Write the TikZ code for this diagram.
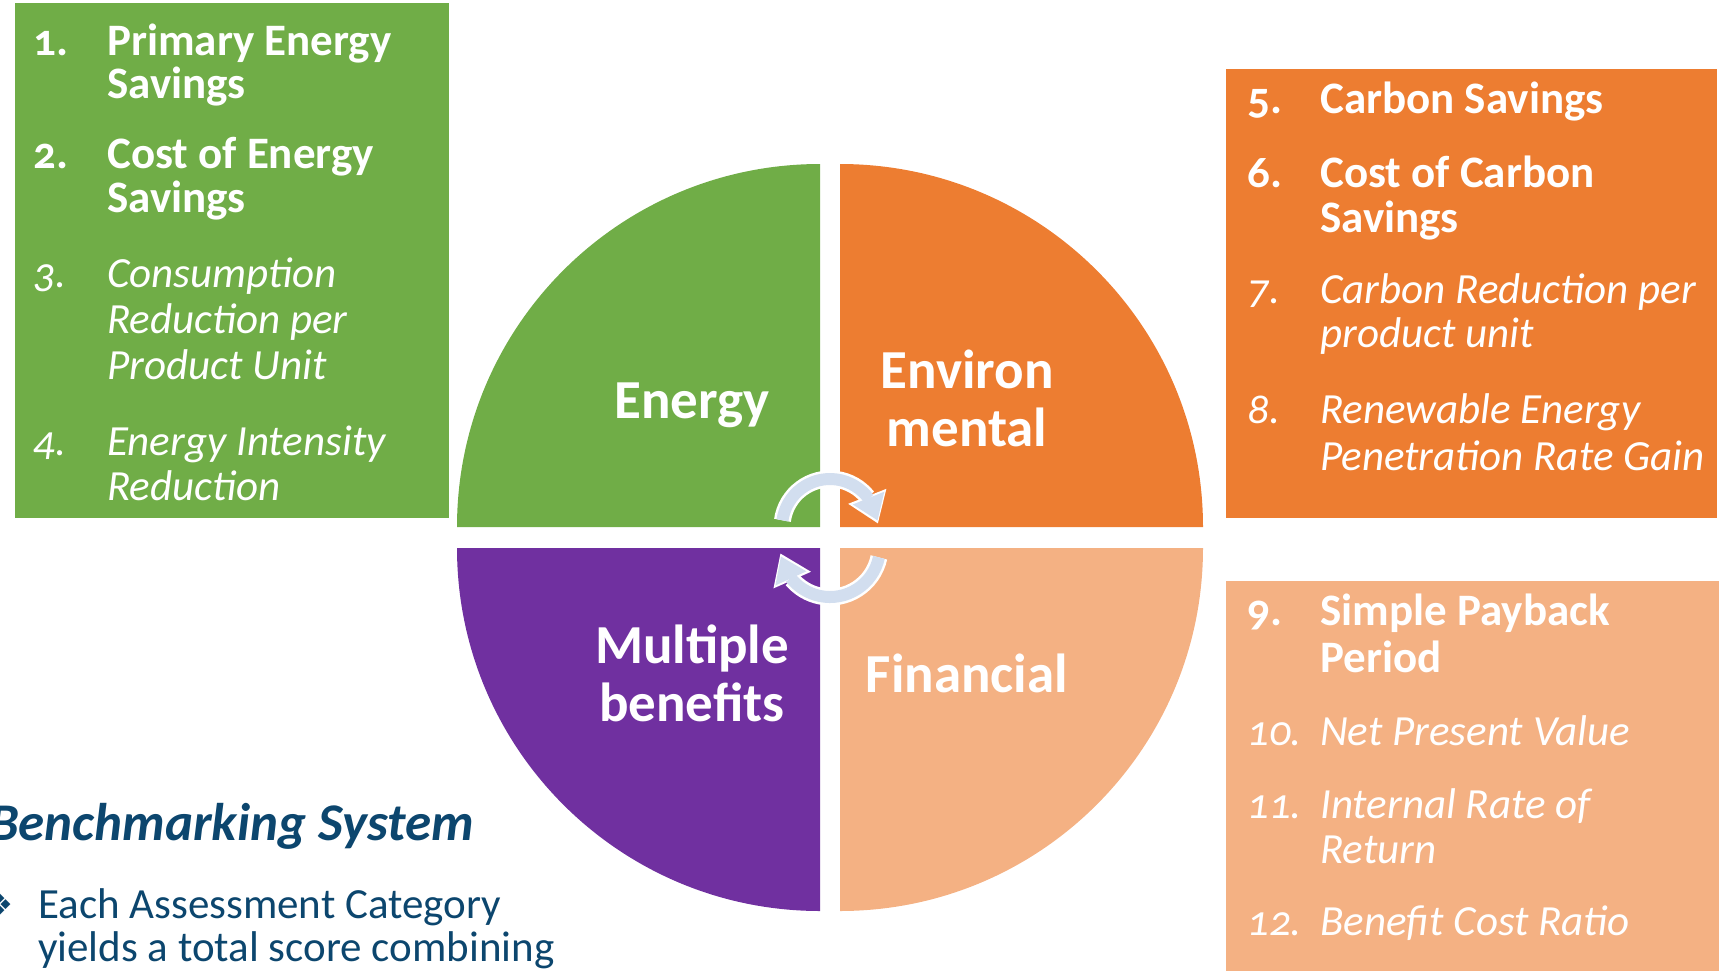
\documentclass[tikz,border=0pt]{standalone}
\usepackage{fontspec}
\setmainfont{Carlito}[Numbers=OldStyle]
\newfontfamily\bulletfont{DejaVu Sans}
\usetikzlibrary{arrows.meta,bending}

\definecolor{energygreen}{HTML}{70AD47}
\definecolor{envorange}{HTML}{ED7D31}
\definecolor{finpeach}{HTML}{F4B183}
\definecolor{multipurple}{HTML}{7030A0}
\definecolor{titleblue}{RGB}{12,70,110}
\definecolor{cyclefill}{RGB}{210,222,239}

\tikzset{
  boldline/.style={anchor=base west, inner sep=0pt, text=white,
    font=\fontsize{45}{45}\selectfont\bfseries},
  itline/.style={anchor=base west, inner sep=0pt, text=white,
    font=\fontsize{43}{43}\selectfont\itshape},
  quadlabel/.style={anchor=base, inner sep=0pt, text=white,
    font=\fontsize{55}{58}\selectfont\bfseries},
  cyclearrow/.style={draw=cyclefill, line width=12pt,
    -{Triangle[width=34pt,length=24pt,line width=0pt]},
    preaction={draw=white, line width=17pt, shorten >=-3pt,
      -{Triangle[width=41pt,length=29pt,line width=0pt]}}}
}

\begin{document}
\begin{tikzpicture}[x=1pt,y=-1pt]
\useasboundingbox (0,0) rectangle (1727,970);
\clip (0,0) rectangle (1727,970);

% Quarter circle
\fill[energygreen] (820,527) -- ++(-363,0) arc[start angle=180, end angle=270, radius=363] -- cycle;
\fill[envorange] (840,527) -- ++(0,-363) arc[start angle=270, end angle=360, radius=363] -- cycle;
\fill[finpeach] (840,548) -- ++(363,0) arc[start angle=0, end angle=90, radius=363] -- cycle;
\fill[multipurple] (820,548) -- ++(0,363) arc[start angle=90, end angle=180, radius=363] -- cycle;

\node[quadlabel] (qenergy) at (692,418) {Energy};
\node[quadlabel] (qenv1) at (967,388) {Environ};
\node[quadlabel] (qenv2) at (967,446) {mental};
\node[quadlabel] (qmulti1) at (692,663) {Multiple};
\node[quadlabel] (qmulti2) at (692,721) {benefits};
\node[quadlabel] (qfin) at (967,692) {Financial};

% Cycle arrows
\draw[cyclearrow] (830,527) ++(188:48) arc[start angle=188, end angle=352, radius=48];
\draw[cyclearrow] (830,547) ++(12:50) arc[start angle=12, end angle=169, radius=50];

% Energy indicators
\fill[energygreen] (15,3) rectangle (449,518);
\node[boldline] (n1) at (33,55) {1.};
\node[boldline] (t1a) at (107,55) {Primary Energy};
\node[boldline] (t1b) at (107,98) {Savings};
\node[boldline] (n2) at (33,168) {2.};
\node[boldline] (t2a) at (107,168) {Cost of Energy};
\node[boldline] (t2b) at (107,212) {Savings};
\node[itline] (n3) at (33,287) {3.};
\node[itline] (t3a) at (107,287) {Consumption};
\node[itline] (t3b) at (107,333) {Reduction per};
\node[itline] (t3c) at (107,379) {Product Unit};
\node[itline] (n4) at (33,455) {4.};
\node[itline] (t4a) at (107,455) {Energy Intensity};
\node[itline] (t4b) at (107,500) {Reduction};

% Environmental indicators
\fill[envorange] (1226,69) rectangle (1717,518);
\node[boldline] (n5) at (1247,113) {5.};
\node[boldline] (t5a) at (1320,113) {Carbon Savings};
\node[boldline] (n6) at (1247,187) {6.};
\node[boldline] (t6a) at (1320,187) {Cost of Carbon};
\node[boldline] (t6b) at (1320,232) {Savings};
\node[itline] (n7) at (1247,303) {7.};
\node[itline] (t7a) at (1320,303) {Carbon Reduction per};
\node[itline] (t7b) at (1320,347) {product unit};
\node[itline] (n8) at (1247,423) {8.};
\node[itline] (t8a) at (1320,423) {Renewable Energy};
\node[itline] (t8b) at (1320,470) {Penetration Rate Gain};

% Financial indicators
\fill[finpeach] (1226,581) rectangle (1719,975);
\node[boldline] (n9) at (1247,625) {9.};
\node[boldline] (t9a) at (1320,625) {Simple Payback};
\node[boldline] (t9b) at (1320,672) {Period};
\node[itline] (n10) at (1247,745) {10.};
\node[itline] (t10a) at (1320,745) {Net Present Value};
\node[itline] (n11) at (1247,818) {11.};
\node[itline] (t11a) at (1320,818) {Internal Rate of};
\node[itline] (t11b) at (1320,863) {Return};
\node[itline] (n12) at (1247,935) {12.};
\node[itline] (t12a) at (1320,935) {Benefit Cost Ratio};

% Benchmarking text
\node[anchor=base east, inner sep=0pt, text=titleblue,
  font=\fontsize{53}{53}\selectfont\bfseries\itshape] (title) at (474,840) {Benchmarking System};
\node[inner sep=0pt, text=titleblue, font=\fontsize{30}{30}\selectfont\bulletfont] (bullet) at (0,905) {❖};
\node[anchor=base west, inner sep=0pt, text=titleblue,
  font=\fontsize{43}{43}\selectfont] (body1) at (38,918) {Each Assessment Category};
\node[anchor=base west, inner sep=0pt, text=titleblue,
  font=\fontsize{43}{43}\selectfont] (body2) at (38,961) {yields a total score combining};
\end{tikzpicture}
\end{document}
